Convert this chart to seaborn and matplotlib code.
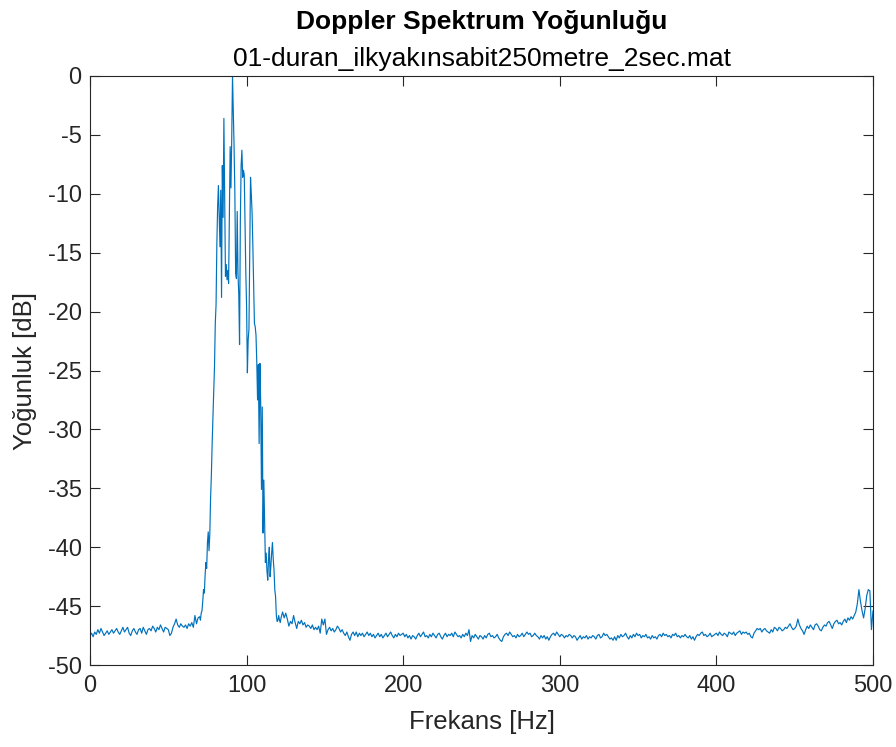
import numpy as np
import pandas as pd
import matplotlib
matplotlib.use("Agg")
import matplotlib.pyplot as plt
import seaborn as sns

# ---- data ----
freq_low = np.arange(0, 70, 1.0)
db_low = [
    -47.5, -47.3, -47.6, -47.2, -47.4, -47.0, -47.3, -46.9, -47.2, -47.5,
    -47.3, -47.1, -47.4, -47.2, -47.0, -47.3, -47.1, -46.9, -47.2, -47.4,
    -47.1, -46.8, -47.2, -47.0, -46.8, -47.3, -47.5, -47.1, -46.9, -47.2,
    -47.4, -47.0, -46.9, -47.3, -46.8, -47.1, -47.4, -47.0, -46.9, -47.1,
    -46.7, -46.9, -47.2, -46.8, -47.0, -46.6, -46.9, -47.2, -46.8, -46.9,
    -47.0, -47.5, -47.3, -46.8, -46.5, -46.1, -46.6, -46.8, -46.5, -46.7,
    -46.8, -46.6, -46.9, -46.5, -46.7, -46.4, -46.8, -45.8, -46.5, -46.0,
]

freq_peak = np.arange(70.0, 122.01, 0.5)
db_peak = [
    -45.9, -46.2, -45.6, -45.4, -44.6, -43.6, -43.9, -42.4, -41.3, -41.8,
    -39.6, -38.7, -40.3, -38.9, -35.8, -33.9, -31.2, -28.9, -26.8, -24.7,
    -21.0, -19.4, -14.3, -11.1, -9.3, -12.0, -14.5, -9.7, -18.8, -7.6,
    -12.0, -3.6, -10.4, -17.0, -16.0, -17.3, -16.5, -17.6, -11.8, -6.0,
    -9.5, -5.4, 0.0, -3.0, -6.0, -9.9, -16.7, -17.2, -11.5, -16.8,
    -18.5, -22.8, -12.4, -7.6, -6.3, -8.6, -8.0, -8.4, -12.5, -16.7,
    -19.6, -25.2, -22.4, -21.5, -15.0, -8.6, -10.0, -11.6, -14.5, -17.9,
    -21.0, -21.3, -22.0, -24.3, -27.5, -24.5, -31.2, -24.4, -27.8, -35.1,
    -28.1, -38.8, -34.3, -37.7, -41.3, -40.5, -42.0, -42.8, -41.0, -40.0,
    -42.5, -41.6, -40.5, -39.6, -41.0, -41.9, -43.6, -44.2, -45.8, -46.3,
    -46.2, -45.8, -46.2, -46.4, -46.0,
]

freq_high = np.arange(123, 500.01, 1.0)
db_high = [
    -45.5, -46.0, -45.6, -46.1, -46.7, -46.3, -46.5,
    -45.8, -46.4, -46.9, -46.3, -46.5, -46.2, -46.6, -46.4, -46.8, -46.6,
    -46.7, -46.9, -46.6, -47.0, -46.8, -47.0, -46.7, -47.3, -46.1, -46.6,
    -46.1, -47.4, -47.0, -46.8, -47.1, -46.9, -47.2, -47.0, -46.7, -46.9,
    -47.2, -47.0, -47.3, -47.5, -47.2, -47.6, -47.9, -47.4, -47.2, -47.5,
    -47.2, -47.6, -47.3, -47.5, -47.3, -47.6, -47.4, -47.2, -47.5, -47.3,
    -47.6, -47.4, -47.7, -47.5, -47.3, -47.6, -47.4, -47.7, -47.5, -47.3,
    -47.6, -47.4, -47.2, -47.5, -47.7, -47.4, -47.6, -47.3, -47.5, -47.4,
    -47.3, -47.6, -47.4, -47.7, -47.5, -47.8, -47.5, -47.6, -47.8, -47.5,
    -47.3, -47.6, -47.4, -47.2, -47.6, -47.5, -47.7, -47.4, -47.6, -47.3,
    -47.5, -47.7, -47.4, -47.3, -47.6, -47.8, -47.5, -47.3, -47.6, -47.4,
    -47.5, -47.3, -47.6, -47.2, -47.4, -47.6, -47.5, -47.7, -47.4, -47.6,
    -47.3, -47.5, -47.0, -48.0, -47.5, -47.7, -47.4, -47.6, -47.8, -47.5,
    -47.6, -47.8, -47.5, -47.7, -47.4, -47.3, -47.6, -47.5, -47.7, -47.6,
    -47.4, -47.7, -47.9, -48.0, -47.6, -47.4, -47.3, -47.5, -47.2, -47.4,
    -47.6, -47.5, -47.7, -47.4, -47.6, -47.5, -47.3, -47.6, -47.4, -47.2,
    -47.4, -47.3, -47.6, -47.5, -47.3, -47.5, -47.6, -47.8, -47.5, -47.7,
    -47.5, -47.8, -47.6, -47.9, -47.6, -47.4, -47.3, -47.5, -47.2, -47.4,
    -47.6, -47.4, -47.5, -47.7, -47.5, -47.6, -47.4, -47.5, -47.7, -47.5,
    -47.6, -47.9, -47.7, -47.5, -47.8, -47.6, -47.7, -47.5, -47.8, -47.6,
    -47.7, -47.5, -47.6, -47.8, -47.5, -47.4, -47.7, -47.6, -47.3, -47.5,
    -47.4, -47.6, -47.8, -47.7, -47.9, -47.6, -47.9, -47.5, -47.7, -47.4,
    -47.6, -47.5, -47.3, -47.6, -47.8, -47.5, -47.7, -47.4, -47.6, -47.3,
    -47.5, -47.4, -47.7, -47.5, -47.6, -47.4, -47.7, -47.6, -47.8, -47.5,
    -47.7, -47.6, -47.8, -47.5, -47.4, -47.6, -47.3, -47.5, -47.4, -47.6,
    -47.5, -47.7, -47.4, -47.5, -47.3, -47.6, -47.5, -47.7, -47.5, -47.6,
    -47.4, -47.6, -47.7, -47.5, -47.8, -47.6, -47.9, -47.6, -47.4, -47.5,
    -47.3, -47.2, -47.5, -47.4, -47.6, -47.5, -47.3, -47.6, -47.5, -47.4,
    -47.3, -47.5, -47.2, -47.4, -47.5, -47.3, -47.4, -47.6, -47.2, -47.3,
    -47.4, -47.2, -47.5, -47.3, -47.2, -47.1, -47.4, -47.2, -47.3, -47.2,
    -47.4, -47.3, -47.6, -47.7, -47.3, -47.1, -46.9, -47.0, -46.9, -47.2,
    -47.0, -46.9, -47.1, -47.2, -47.3, -47.0, -47.2, -46.8, -46.9, -47.1,
    -46.8, -46.9, -47.1, -47.0, -46.8, -46.9, -46.7, -46.5, -46.8, -47.0,
    -46.9, -46.7, -46.1, -46.6, -46.9, -47.1, -47.4, -47.0, -46.7, -46.9,
    -46.6, -46.8, -47.0, -46.6, -46.5, -46.7, -47.0, -47.1, -46.8, -46.6,
    -46.7, -46.4, -46.3, -46.6, -46.9, -46.5, -46.3, -46.2, -46.5, -46.4,
    -46.6, -46.3, -46.1, -46.4, -46.0, -46.2, -45.9, -46.1, -45.8, -45.5,
    -44.8, -43.6, -44.6, -45.4, -46.0, -45.2, -44.1, -43.6, -43.7, -47.0,
    -45.4,
]

x_ticks = [0, 100, 200, 300, 400, 500]
y_ticks = [-50, -45, -40, -35, -30, -25, -20, -15, -10, -5, 0]

title_text = "Doppler Spektrum Yoğunluğu"
subtitle_text = "01-duran_ilkyakınsabit250metre_2sec.mat"
x_label = "Frekans [Hz]"
y_label = "Yoğunluk [dB]"

df = pd.DataFrame({
    "Frekans": np.concatenate([freq_low, freq_peak, freq_high]),
    "dB": np.concatenate([db_low, db_peak, db_high]),
})

# ---- style ----
sns.set_style("ticks")
plt.rcParams["font.family"] = ["Liberation Sans", "DejaVu Sans"]

fig = plt.figure(figsize=(8.96, 7.47), dpi=100)
fig.patch.set_facecolor("white")
ax = fig.add_axes([90 / 896, 82 / 747, 783 / 896, 589 / 747])

sns.lineplot(data=df, x="Frekans", y="dB", ax=ax, color="#0072BD",
             linewidth=0.85, estimator=None, sort=False)

ax.set_xlim(0, 500)
ax.set_ylim(-50, 0)
ax.set_xticks(x_ticks)
ax.set_yticks(y_ticks)
ax.set_xticklabels([str(v) for v in x_ticks])
ax.set_yticklabels([str(v) for v in y_ticks])

axis_color = "#262626"
for s in ax.spines.values():
    s.set_visible(True)
    s.set_color(axis_color)
    s.set_linewidth(0.8)

ax.tick_params(axis="both", which="major", direction="in", top=True, right=True,
               length=7, width=0.8, color=axis_color, labelcolor=axis_color,
               labelsize=17)
ax.tick_params(axis="x", pad=7)
ax.tick_params(axis="y", pad=6)

ax.set_xlabel(x_label, fontsize=18.5, color=axis_color)
ax.set_ylabel(y_label, fontsize=18.5, color=axis_color)
ax.xaxis.set_label_coords(0.5, (665 - 722) / 589)
ax.yaxis.set_label_coords((25 - 90) / 783, 0.5)
ax.xaxis.label.set_va("center")
ax.yaxis.label.set_va("center")

cx = (90 + 873) / 2 / 896
fig.text(cx, 1 - 29 / 747, title_text, ha="center", va="baseline",
         fontsize=19, fontweight="bold", color="black")
fig.text(cx, 1 - 66 / 747, subtitle_text, ha="center", va="baseline",
         fontsize=19, color="black")

fig.savefig("out.png", dpi=100, facecolor="white")
